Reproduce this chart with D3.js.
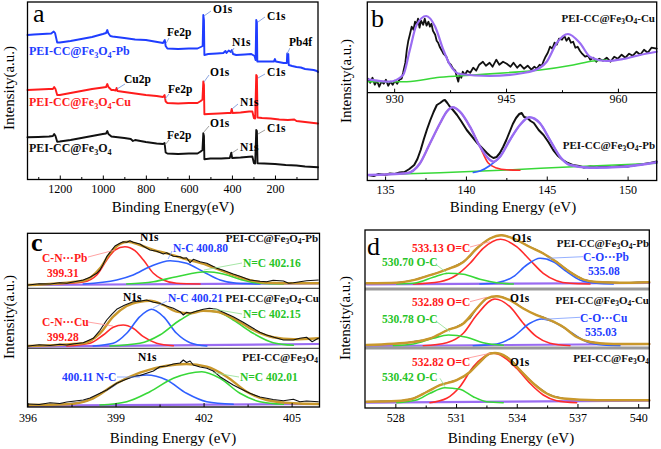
<!DOCTYPE html>
<html><head><meta charset="utf-8">
<script src="https://cdn.jsdelivr.net/npm/d3@7"></script>
<style>
body{margin:0;background:#fff}
svg{display:block}
svg text{font-family:'Liberation Serif','DejaVu Serif','Times New Roman',Times,serif}
</style>
</head><body>
<svg id="chart" width="661" height="449" font-family="Liberation Serif, DejaVu Serif, serif"></svg>
<script>
// ===== Panel a: survey spectra [binding energy eV, intensity a.u.] =====
const surveyPb = [[1350,145],[1320,145.5],[1280,146],[1240,146.5],[1228,148.5],[1222,147],[1212,137.5],[1200,137.5],[1150,139],[1100,141],[1050,143],[1000,146],[985,147],[979,150],[975,147],[965,144],[955,143.5],[900,142],[850,140.5],[800,140],[760,138.5],[720,137],[712,140],[708,134],[700,131.5],[650,131],[600,131.5],[560,131.5],[545,133],[536,134],[533,165],[530,160],[528,125],[510,126],[470,126.5],[440,127],[430,129],[425,127],[415,129.5],[405,128],[400,130],[395,126],[380,125],[340,125.5],[310,126],[295,124],[290,120],[287,160],[284,158],[282,118.5],[270,118.5],[240,118.5],[205,118.5],[200,121],[196,118.5],[160,117],[145,117],[143,126.5],[138,126],[136,115],[120,114],[100,113],[80,112.5],[60,111],[40,110.5],[20,110],[5,109],[0,108]];
const surveyCu = [[1350,90],[1300,90.5],[1250,91],[1232,91],[1226,93],[1220,91],[1212,85],[1200,85],[1150,87],[1100,89],[1050,91],[1000,92.5],[985,93],[979,96],[974,93],[960,90],[950,90],[940,89.5],[936,92],[932,89],[900,88],[850,86.5],[800,85],[750,84],[720,83],[713,85],[708,78.5],[700,77],[650,76.5],[600,77],[560,77],[545,79],[537,80.5],[533,98.5],[530,95],[528,65.7],[510,66],[460,66.5],[420,67],[405,67],[401,71],[397,67],[360,67.5],[320,68.5],[305,68.5],[298,62],[292,61.5],[287,105],[284,104],[281,62.5],[260,62],[220,61.5],[180,60.5],[140,60],[110,60.5],[100,59],[60,58],[20,57],[0,56.5]];
const surveyFe = [[1350,42.7],[1300,43],[1250,43.5],[1232,44],[1226,46],[1220,44],[1212,38.3],[1200,38.5],[1150,40],[1100,42],[1050,44],[1000,46],[985,46.5],[979,49],[974,46],[960,43.5],[900,42],[870,41],[860,39],[850,40],[800,38],[750,36.5],[720,36],[713,37],[708,27.5],[700,26.5],[650,26],[600,26.5],[560,26.5],[545,28.5],[537,30],[533,46.7],[530,44],[528,20.7],[500,21.5],[450,21.5],[410,22],[403,27.3],[399,22],[360,22.5],[320,23.3],[305,23.5],[298,17],[292,16.5],[287,50],[284,49],[281,16.7],[250,16.5],[200,16],[150,15],[100,14.5],[60,13.5],[20,13],[0,12.7]];
const surveyTicks = [1200,1000,800,600,400,200];
const surveyMinor = [1300,1100,900,700,500,300,100];
const sampleSuffixes = ["-Pb","-Cu",""];

// ===== Panel b: Cu 2p (top) and Pb 4f (bottom) =====
const cu2pData = [[926.5,14],[926.8,10],[927.1,15],[927.4,8],[927.7,12],[928.0,6],[928.3,11],[928.6,9],[928.9,13],[929.2,7],[929.5,11],[929.8,8],[930.1,12],[930.4,9],[930.7,13],[931.0,14],[931.2,20],[931.5,30],[931.7,43],[931.9,52],[932.1,58],[932.35,66],[932.6,63],[932.8,71],[933.0,68],[933.2,74],[933.4,65],[933.6,72],[933.9,68],[934.1,74],[934.35,67],[934.6,71],[934.8,66],[935.0,69],[935.2,62],[935.5,58],[935.7,52],[935.9,50],[936.1,46],[936.4,42],[936.6,39],[937.0,36],[937.3,30],[937.6,28],[937.9,24],[938.2,22],[938.4,16],[938.6,11],[938.8,19],[939.0,15],[939.2,21],[939.5,18],[939.8,22],[940.2,20],[940.6,25],[941.0,22],[941.4,28],[941.9,31],[942.3,27],[942.8,30],[943.2,26],[943.7,33],[944.1,28],[944.6,31],[945.1,29],[945.6,26],[946.0,30],[946.5,25],[946.9,28],[947.4,24],[947.9,27],[948.4,23],[948.8,26],[949.1,24],[949.5,28],[949.8,27],[950.0,31],[950.3,36],[950.6,40],[950.9,46],[951.2,44],[951.5,50],[951.8,48],[952.1,54],[952.5,53],[952.8,57],[953.1,52],[953.4,55],[953.7,50],[954.0,51],[954.3,45],[954.6,46],[954.9,42],[955.2,39],[955.6,36],[956.0,37],[956.3,33],[956.7,35],[957.1,31],[957.5,34],[958.0,32],[958.5,35],[959.0,31],[959.5,36],[960.0,34],[960.5,38],[961.0,35],[961.5,39],[962.0,37],[962.5,41],[963.0,38],[963.5,43],[964.0,40],[964.5,45],[965.2,44]];
const cu2pFit = [[926.53,13.4],[929.4,11],[931.2,17.7],[932.1,42.7],[933.0,67.7],[934.3,76.7],[935.5,66],[936.6,42.7],[937.5,27.7],[938.8,18.7],[942.8,16.7],[947.3,19.7],[949.55,25],[950.45,31],[951.8,49.7],[953.3,58.7],[954.9,49.7],[956.3,35.7],[958.5,31.7],[960.7,33.7],[962.95,37.7],[965.2,41]];
const cu2pBase = [[926.53,11],[931.7,11],[936.1,15.4],[940.6,17.7],[945.1,20],[949.55,22.7],[954.0,27.7],[956.7,31.7],[958.5,32.7]];
const cu2pTicks = [930,945,960];
const cu2pMinor = [937.5,952.5];
const pb4fData = [[133.96,5],[134.3,4],[134.6,6],[135.0,5],[135.3,6.5],[135.6,6],[135.9,7.5],[136.2,8],[136.5,11],[136.8,15],[137.0,21],[137.2,30],[137.4,41],[137.6,51],[137.8,60],[138.0,68],[138.2,75],[138.4,77],[138.6,79.5],[138.7,80],[138.85,77],[139.0,73.5],[139.2,70],[139.45,65],[139.7,59],[140.05,50],[140.4,43],[140.7,37],[141.0,32],[141.3,27],[141.5,24],[141.7,22],[141.9,23],[142.1,27],[142.3,33],[142.5,40],[142.7,48],[142.9,56],[143.1,62],[143.3,66],[143.45,67],[143.6,63],[143.8,62],[144.0,59],[144.2,57],[144.5,50],[144.8,45],[145.1,38],[145.4,30],[145.7,24],[146.0,20],[146.3,17],[146.6,15],[147.0,14],[147.3,12.5],[147.7,13.5],[148.1,12.5],[148.5,14],[149.0,13],[149.5,14],[150.0,13.5],[150.5,15],[151.0,16],[151.4,17],[151.8,18.5]];
const pb4fFit = [[133.96,5],[136.34,6.7],[137.16,16.7],[137.78,36.7],[138.4,56.7],[138.81,68.3],[139.18,72.7],[139.63,68.3],[140.25,53.3],[140.87,33.3],[141.49,20],[141.69,18.3],[142.11,23.3],[142.72,40],[143.34,55],[143.92,62.7],[144.58,56.7],[145.2,40],[145.82,23.3],[146.44,15],[147.67,12.3],[149.73,13.3],[151.8,17.7]];
const pb4f72 = [[133.96,5],[136.34,6.7],[137.16,16.7],[137.78,36.7],[138.4,56.7],[138.81,68.3],[139.18,72.7],[139.63,68.3],[140.25,53.3],[140.87,33.3],[141.38,17],[141.9,12],[142.52,10.2],[143.34,9.8]];
const pb4f52 = [[140.46,7.5],[140.87,9],[141.49,14.5],[142.11,23.3],[142.72,40],[143.34,55],[143.92,62.7],[144.58,56.7],[145.2,40],[145.82,23.3],[146.44,15],[147.67,12.3],[149.73,13.3],[151.8,17.7]];
const pb4fBase = [[133.96,5],[138.4,7.3],[142.52,10],[146.64,13.3],[151.8,16.7]];
const pb4fTicks = [135,140,145,150];
const pb4fMinor = [137.5,142.5,147.5];

// ===== Panel c: N 1s =====
const n1sPbData = [[396.03,3.3],[396.4,4.5],[396.77,4.3],[397.1,5.5],[397.34,5],[397.6,6.5],[397.9,8.3],[398.13,11],[398.36,15],[398.47,18.3],[398.58,24],[398.7,31.6],[398.81,36],[398.98,42.3],[399.15,45],[399.26,46.6],[399.38,46],[399.49,47.6],[399.6,46],[399.83,44.3],[399.95,42],[400.17,38.3],[400.4,37],[400.63,34.3],[400.74,35.5],[400.97,32],[401.2,31.6],[401.31,30],[401.42,30.5],[401.54,25.6],[401.65,29],[401.88,26.6],[402.11,25],[402.45,20],[402.67,18],[403.01,14.3],[403.24,12],[403.58,8.3],[403.92,7],[404.15,6.6],[404.37,8],[404.72,7.3],[404.9,5],[405.06,5.6],[405.28,6.6],[405.51,7.5],[405.91,8.3]];
const n1sPbEnv = [[396.03,3.3],[397.9,7.6],[398.47,20],[398.81,35],[399.15,44.3],[399.43,46.6],[399.83,43.3],[400.29,38.3],[400.74,35],[401.42,29],[402.11,23.3],[402.79,15.6],[403.47,9],[404.15,5.6],[405.28,5],[405.91,5]];
const n1sPbCN = [[396.77,4.3],[397.9,6.3],[398.36,13.3],[398.7,28.3],[398.98,38.3],[399.32,41.6],[399.66,37.6],[399.95,28.3],[400.29,15],[400.63,8.3],[401.08,5],[401.88,4.3]];
const n1sPbNC = [[397.9,4.3],[399.04,8.3],[399.6,13.3],[400.17,21.6],[400.86,27.6],[401.42,25],[401.99,16.6],[402.56,8.3],[403.13,5],[403.92,4.3]];
const n1sPbNdC = [[399.38,4.3],[400.29,6.6],[401.08,11.6],[402.1,16.6],[402.67,14.3],[403.24,9],[403.92,5],[404.72,4.3]];
const n1sPbBase = [[396.03,3.3],[405.91,5]];
const n1sCuData = [[396.03,2.3],[396.4,3.5],[396.77,2.8],[397.1,4],[397.34,3.3],[397.6,4.5],[397.9,5.5],[398.24,10],[398.47,18],[398.7,28.3],[398.87,34],[399.04,39],[399.3,43],[399.6,46.6],[399.83,47],[400.06,48.3],[400.29,46],[400.51,45],[400.74,42.3],[400.97,40],[401.2,36.6],[401.31,33.3],[401.42,36],[401.54,35],[401.75,37],[401.99,39],[402.2,40],[402.45,39],[402.67,36],[403.01,31.6],[403.35,26],[403.69,20],[403.92,16],[404.15,13.3],[404.4,11],[404.72,8.3],[405.06,8.3],[405.28,10],[405.51,11],[405.7,6.6],[405.91,10]];
const n1sCuEnv = [[396.03,2.3],[397.9,5],[398.47,15],[398.92,31.6],[399.38,42.3],[399.83,46.6],[400.17,47.6],[400.63,43.3],[401.08,36.6],[401.54,35],[401.99,37.6],[402.45,36.6],[403.01,30],[403.69,18.3],[404.37,11],[405.06,9],[405.91,10]];
const n1sCuCN = [[397.34,2.3],[398.13,5],[398.58,13.3],[398.92,21],[399.26,23.3],[399.6,20],[399.95,11.6],[400.4,5],[400.97,2.6]];
const n1sCuNC = [[398.24,2.3],[398.92,5],[399.38,15],[399.83,31.6],[400.23,39],[400.63,31.6],[401.08,15],[401.54,5.6],[402.11,2.3]];
const n1sCuNdC = [[398.81,2.3],[399.83,5],[400.51,13.3],[401.2,28.3],[401.88,37.6],[402.45,36.6],[403.01,28.3],[403.69,15],[404.37,5.6],[405.06,3]];
const n1sCuBase = [[396.03,1.6],[405.91,4.3]];
const n1sFeData = [[396.03,3],[396.4,2.5],[396.77,4.3],[397.1,3.5],[397.34,5],[397.9,7],[398.13,9],[398.47,13.7],[398.7,17],[399.04,23.7],[399.3,27],[399.6,30.3],[399.83,31.5],[400.06,33.7],[400.29,36],[400.51,40.3],[400.74,41],[400.97,43],[401.2,44],[401.31,47],[401.42,44.5],[401.54,46],[401.65,42],[401.88,40],[402.11,38.7],[402.33,36],[402.56,30.3],[402.79,26],[403.01,22],[403.24,18.5],[403.58,13.7],[403.92,10],[404.15,8.7],[404.37,7.5],[404.72,6.3],[405.06,7.7],[405.28,5.3],[405.51,6],[405.91,5.3]];
const n1sFeEnv = [[396.03,2],[397.34,2.7],[398.24,8.7],[399.04,23.7],[399.83,34.3],[400.74,41.3],[401.42,43],[402.11,40.3],[402.79,30.3],[403.47,15.3],[404.15,7],[405.06,3.7],[405.91,3]];
const n1sFeNC = [[396.77,2],[397.9,5.3],[398.7,17],[399.38,28.7],[400.06,32],[400.74,27],[401.42,13.7],[402.11,5.3],[403.01,2.7]];
const n1sFeNdC = [[398.47,2],[399.38,5.3],[400.17,15.3],[400.97,28.7],[401.94,35.3],[402.56,28.7],[403.24,13.7],[403.92,5.3],[404.72,2.7]];
const n1sFeBase = [[396.03,1.3],[405.91,3]];
const n1sTicks = [396,399,402,405];
const n1sMinor = [397.5,400.5,403.5];

// ===== Panel d: O 1s =====
const o1sPbData = [[526.58,5.7],[527.3,6],[528.07,6.3],[528.5,7.5],[528.89,9],[529.3,11.5],[529.71,14],[530.2,17],[530.54,19.7],[530.9,22.5],[531.36,27.3],[531.7,33],[532.02,40.7],[532.35,46],[532.68,50.7],[532.9,52.5],[533.25,54],[533.5,53],[533.83,50.7],[534.2,47],[534.65,42.3],[535.0,39],[535.31,35.7],[535.6,31.5],[535.97,27.3],[536.3,22],[536.63,17.3],[536.96,13],[537.29,9.7],[537.62,8],[537.95,7],[538.5,6.8],[539.1,6.3],[539.59,6.3],[540.0,6.8],[540.55,7]];
const o1sPbEnv = [[526.58,5.7],[528.07,6.3],[528.89,8.8],[529.71,13.8],[530.54,19.5],[531.36,27],[532.02,40.5],[532.68,50.5],[533.25,53.8],[533.83,50.5],[534.65,42],[535.31,35.5],[535.97,27],[536.63,17],[537.29,9.5],[537.95,7],[539.1,6.3],[540.55,6.8]];
const o1sPbOdC = [[528.89,5],[530.2,7.3],[531.03,14],[531.69,25.7],[532.34,40.7],[533.2,49.7],[533.99,42.3],[534.65,29],[535.31,15.7],[535.97,8.3],[536.63,5.7],[537.62,5]];
const o1sPbCO = [[532.18,5],[533.01,6.3],[533.83,12.3],[534.49,24],[535.15,30.7],[535.8,27.3],[536.47,17.3],[537.12,9],[537.95,5.7],[538.77,5]];
const o1sPbOC = [[528.07,5],[529.05,6.3],[529.87,11.7],[530.62,15.7],[531.36,14.7],[532.18,9.7],[533.01,6.3],[533.83,5]];
const o1sPbBase = [[526.58,4.7],[540.55,6]];
const o1sCuData = [[526.58,3],[527.5,3.5],[528.3,4.5],[528.89,6.3],[529.38,8],[529.71,9.7],[530.04,12],[530.3,15],[530.54,18],[531.0,21],[531.36,24.7],[531.7,30],[532.02,39.7],[532.51,49.7],[533.01,52],[533.3,51],[533.66,48],[534.0,44],[534.32,39.7],[534.65,36],[534.98,33],[535.3,31],[535.64,28],[535.97,25],[536.3,21.3],[536.63,16],[536.96,11.3],[537.29,8],[537.62,6.3],[538.0,5],[538.77,4],[539.6,4],[540.55,4]];
const o1sCuEnv = [[526.58,3],[528.89,6],[529.71,9.5],[530.54,17.5],[531.36,24.5],[532.02,39.5],[532.51,49.5],[533.01,51.8],[533.66,47.8],[534.32,39.5],[534.98,32.8],[535.64,27.8],[536.3,21],[536.96,11],[537.62,6],[538.77,4],[540.55,4]];
const o1sCuOdC = [[529.38,2.3],[530.54,5.3],[531.36,14.7],[532.02,33],[532.92,49],[533.66,41.3],[534.32,24.7],[534.98,11.3],[535.64,4.7],[536.63,2.3]];
const o1sCuCO = [[531.85,2.3],[533.01,4],[533.83,11.3],[534.65,24.7],[535.23,29],[535.8,26.3],[536.63,16.3],[537.45,6.3],[538.27,3],[539.1,2.3]];
const o1sCuOC = [[527.9,2.3],[528.89,4],[529.87,9.7],[530.62,13],[531.52,10.7],[532.34,5.3],[533.33,2.7]];
const o1sCuBase = [[526.58,2],[540.55,4]];
const o1sFeData = [[526.58,6.3],[527.3,6.8],[528.07,7],[528.5,8],[528.89,9.7],[529.2,12.5],[529.55,16.3],[529.9,20],[530.2,23],[530.6,25.5],[531.03,28],[531.36,31],[531.69,36.3],[531.9,41],[532.18,46.3],[532.45,51],[532.68,54.7],[532.92,55.3],[533.2,54],[533.5,51.3],[533.83,46],[534.16,38],[534.49,31],[534.82,24.7],[535.15,19.5],[535.48,14.7],[535.8,12],[536.3,9.7],[536.96,8.5],[537.95,8],[539.1,8],[540.55,8]];
const o1sFeEnv = [[526.58,6.3],[528.07,7],[528.89,9.5],[529.55,16],[530.2,22.8],[531.03,27.8],[531.69,36],[532.18,46],[532.68,54.5],[532.92,55],[533.5,51],[534.16,37.8],[534.82,24.5],[535.48,14.5],[536.3,9.5],[537.95,7.8],[540.55,7.8]];
const o1sFeOdC = [[529.71,5.3],[530.54,9.7],[531.19,21.3],[531.85,41.3],[532.34,50.7],[532.84,54.7],[533.33,51.3],[533.99,39.7],[534.65,24.7],[535.31,13],[535.97,7.3],[536.96,5.3]];
const o1sFeOC = [[528.07,5.3],[529.05,8],[529.71,14.7],[530.45,20.3],[531.19,18.7],[531.85,11.3],[532.51,6.3],[533.33,5.3]];
const o1sFeBase = [[526.58,5.3],[540.55,7.3]];
const o1sTicks = [528,531,534,537,540];
const o1sMinor = [529.5,532.5,535.5,538.5];

// ===== drawing =====
const COL = {blue:"#1f3dff", red:"#ff1c1c", black:"#111", purple:"#9a6cf2", green:"#38d838",
             fitRed:"#ff2b2b", fitBlue:"#3060ff", env:"#c9982c", tGreen:"#27c427", tBlue:"#1f3dff", tRed:"#ff1a1a"};
const FONT = "Liberation Serif, DejaVu Serif, Times New Roman, serif";
const svg = d3.select("#chart");

function line(g, data, x, y, color, w, curve) {
  g.append("path").datum(data).attr("fill","none").attr("stroke",color).attr("stroke-width",w)
    .attr("stroke-linejoin","round").attr("stroke-linecap","round")
    .attr("d", d3.line().x(d=>x(d[0])).y(d=>y(d[1])).curve(curve||d3.curveLinear));
}
function axis(g, x, yPos, majors, minors, pad) {
  const a = g.append("g").attr("transform",`translate(0,${yPos})`)
    .call(d3.axisBottom(x).tickValues(majors).tickSize(-4).tickPadding(pad).tickFormat(d3.format("d")));
  a.select(".domain").remove();
  a.attr("font-family",FONT).attr("font-size",12);
  a.selectAll("line").attr("stroke","#000").attr("stroke-width",1);
  a.selectAll("text").attr("fill","#000").style("font-family",FONT);
  const m = g.append("g").attr("transform",`translate(0,${yPos})`)
    .call(d3.axisBottom(x).tickValues(minors).tickSize(-2.5).tickFormat(""));
  m.select(".domain").remove();
  m.selectAll("line").attr("stroke","#000").attr("stroke-width",1);
}
function box(g, x0, y0, x1, y1) {
  g.append("rect").attr("x",x0).attr("y",y0).attr("width",x1-x0).attr("height",y1-y0)
    .attr("fill","none").attr("stroke","#000").attr("stroke-width",1.3);
}
function txt(g, x, y, s, opt) {
  opt = opt||{};
  return g.append("text").attr("x",x).attr("y",y).text(s).style("font-family",FONT)
    .attr("font-size",opt.size||11.5).attr("font-weight",opt.bold===false?"normal":"bold")
    .attr("fill",opt.color||"#000").attr("text-anchor",opt.anchor||"start");
}
function sample(g, x, y, suffix, color, size, anchor) {
  const t = g.append("text").attr("x",x).attr("y",y).attr("font-size",size).attr("font-weight","bold")
    .style("font-family",FONT).attr("fill",color).attr("text-anchor",anchor||"start");
  t.append("tspan").text("PEI-CC@Fe");
  t.append("tspan").text("3").attr("font-size",size*0.68).attr("dy",size*0.22);
  t.append("tspan").text("O").attr("dy",-size*0.22);
  t.append("tspan").text("4").attr("font-size",size*0.68).attr("dy",size*0.22);
  if (suffix) t.append("tspan").text(suffix).attr("dy",-size*0.22);
}
function leader(g, x1, y1, x2, y2, color) {
  g.append("line").attr("x1",x1).attr("y1",y1).attr("x2",x2).attr("y2",y2)
    .attr("stroke",color).attr("stroke-width",0.8);
}
function ytitle(g, x, y) {
  g.append("text").attr("transform",`translate(${x},${y}) rotate(-90)`).attr("text-anchor","middle")
    .style("font-family",FONT).attr("font-size",15).text("Intensity(a.u.)");
}
function xtitle(g, x, y, s) {
  g.append("text").attr("x",x).attr("y",y).attr("text-anchor","middle").style("font-family",FONT)
    .attr("font-size",15).text(s);
}
function letter(g, x, y, s, bold) {
  g.append("text").attr("x",x).attr("y",y).attr("font-size",26).style("font-family",FONT)
    .attr("font-weight",bold?"bold":"normal").text(s);
}
const smooth = d3.curveMonotoneX;

// ---------- Panel a ----------
{
  const g = svg.append("g");
  const x = d3.scaleLinear().domain([1350,0]).range([27.5,318]);
  const y = d3.scaleLinear().domain([0,178]).range([180,2]);
  line(g, surveyPb, x, y, COL.blue, 1.9);
  line(g, surveyCu, x, y, COL.red, 1.9);
  line(g, surveyFe, x, y, COL.black, 1.9);
  box(g, 27.5, 2, 318, 179.5);
  axis(g, x, 179.5, surveyTicks, surveyMinor, 5);
  xtitle(g, 173, 212, "Binding Energy(eV)");
  ytitle(g, 14, 88);
  letter(g, 33, 22, "a");
  sample(g, 29, 55, sampleSuffixes[0], COL.blue, 12);
  sample(g, 29, 106, sampleSuffixes[1], COL.red, 12);
  sample(g, 29, 152, sampleSuffixes[2], COL.black, 12);
  const ann = [
    ["Fe2p",167,36,169,38,705,137,"#6f8fd8"],["O1s",213,13,211,11,530,164,"#6f8fd8"],
    ["C1s",267,20,265,17,279,158,"#6f8fd8"],["N1s",232,46,234,48,404,127,"#6f8fd8"],
    ["Pb4f",289,46,290,48,144,126,"#6f8fd8"],
    ["Cu2p",124,83,125,84,934,91,"#6f8fd8"],["Fe2p",168,93,169,94,711,81,"#6f8fd8"],
    ["O1s",210,76,209,75,530,98,"#6f8fd8"],["C1s",267,76,265,74,279,102,"#6f8fd8"],
    ["N1s",240,106,238,104,400,71,"#6f8fd8"],
    ["Fe2p",167,139,169,140,711,35,"#888"],["O1s",210,127,209,126,530,48,"#888"],
    ["C1s",267,132,265,130,279,46,"#888"],["N1s",240,151,238,149,400,27,"#888"]
  ];
  ann.forEach(a => { leader(g, a[3], a[4], x(a[5]), y(a[6]), a[7]); txt(g, a[1], a[2], a[0], {size:11.5}); });
}

// ---------- Panel b ----------
{
  const g = svg.append("g");
  const xT = d3.scaleLinear().domain([926.4,965.2]).range([367.3,656.7]);
  const yT = d3.scaleLinear().domain([0,90.7]).range([92.7,2]);
  const xB = d3.scaleLinear().domain([133.9,151.8]).range([367.3,656.7]);
  const yB = d3.scaleLinear().domain([0,87.3]).range([180,92.7]);
  line(g, cu2pData, xT, yT, COL.black, 1.8);
  line(g, cu2pBase, xT, yT, COL.green, 1.6, smooth);
  line(g, cu2pFit, xT, yT, COL.purple, 2.2, smooth);
  line(g, pb4fData, xB, yB, COL.black, 2);
  line(g, pb4fBase, xB, yB, COL.green, 1.6, smooth);
  line(g, pb4f72, xB, yB, COL.fitRed, 1.6, smooth);
  line(g, pb4f52, xB, yB, COL.fitBlue, 1.6, smooth);
  line(g, pb4fFit, xB, yB, COL.purple, 2.4, smooth);
  box(g, 367.3, 2, 656.7, 180.5);
  g.append("line").attr("x1",367.3).attr("x2",656.7).attr("y1",92.7).attr("y2",92.7).attr("stroke","#000").attr("stroke-width",1.3);
  axis(g, xT, 92.7, cu2pTicks, cu2pMinor, 2);
  axis(g, xB, 180.5, pb4fTicks, pb4fMinor, 5);
  xtitle(g, 513, 212, "Binding Energy (eV)");
  ytitle(g, 351, 81);
  letter(g, 371, 27, "b");
  sample(g, 655, 22, "-Cu", COL.black, 11, "end");
  sample(g, 655, 149, "-Pb", COL.black, 11, "end");
}

// ---------- Panel c ----------
{
  const g = svg.append("g");
  const x = d3.scaleLinear().domain([396,405.95]).range([27.5,319.5]);
  const yT = d3.scaleLinear().domain([0,55]).range([288.3,233.3]);
  const yM = d3.scaleLinear().domain([0,60]).range([348.3,288.3]);
  const yB = d3.scaleLinear().domain([0,58.7]).range([407,348.3]);
  const sets = [
    [yT, n1sPbBase, [n1sPbCN, n1sPbNC, n1sPbNdC], n1sPbEnv, n1sPbData],
    [yM, n1sCuBase, [n1sCuCN, n1sCuNC, n1sCuNdC], n1sCuEnv, n1sCuData],
    [yB, n1sFeBase, [null, n1sFeNC, n1sFeNdC], n1sFeEnv, n1sFeData]
  ];
  const compCol = [COL.fitRed, COL.fitBlue, COL.green];
  sets.forEach(s => {
    line(g, s[1], x, s[0], COL.purple, 2.2);
    s[2].forEach((c,i) => { if (c) line(g, c, x, s[0], compCol[i], 1.6, smooth); });
    line(g, s[3], x, s[0], COL.env, 2.4, smooth);
    line(g, s[4], x, s[0], COL.black, 1.1);
  });
  g.append("line").attr("x1",27.5).attr("x2",319.5).attr("y1",288.3).attr("y2",288.3).attr("stroke","#555").attr("stroke-width",1.2);
  g.append("line").attr("x1",27.5).attr("x2",319.5).attr("y1",348.3).attr("y2",348.3).attr("stroke","#555").attr("stroke-width",1.2);
  box(g, 27.5, 233.3, 319.5, 407);
  axis(g, x, 407, n1sTicks, n1sMinor, 6.3);
  xtitle(g, 173, 443, "Binding Energy (eV)");
  ytitle(g, 14, 317);
  letter(g, 31, 251, "c", true);
  // top
  txt(g, 140, 241, "N1s");
  sample(g, 318, 242, "-Pb", COL.black, 11, "end");
  leader(g, 172, 251, x(400.79), yT(29.3), "#7a9cff");
  txt(g, 173, 252, "N-C 400.80", {color:COL.tBlue});
  leader(g, 88, 257, x(398.98), yT(38.3), "#ff8c8c");
  txt(g, 42, 262, "C-N\u00B7\u00B7\u00B7Pb", {color:COL.tRed});
  txt(g, 47, 277, "399.31", {color:COL.tRed});
  leader(g, 242, 263, x(402.01), yT(18.3), "#8fe08f");
  txt(g, 243, 267, "N=C 402.16", {color:COL.tGreen});
  // middle
  txt(g, 123, 301, "N1s");
  leader(g, 167, 301, x(400.28), yM(40.3), "#7a9cff");
  txt(g, 168, 302, "N-C 400.21", {color:COL.tBlue});
  sample(g, 319, 302, "-Cu", COL.black, 11, "end");
  leader(g, 88, 322, x(398.91), yM(22.3), "#ff8c8c");
  txt(g, 42, 326, "C-N\u00B7\u00B7\u00B7Cu", {color:COL.tRed});
  txt(g, 47, 341, "399.28", {color:COL.tRed});
  leader(g, 242, 314, x(402.32), yM(39.3), "#8fe08f");
  txt(g, 243, 318, "N=C 402.15", {color:COL.tGreen});
  // bottom
  txt(g, 138, 361, "N1s");
  sample(g, 318, 361, "", COL.black, 11, "end");
  leader(g, 117, 377, x(399.83), yB(30), "#7a9cff");
  txt(g, 62, 381, "400.11 N-C", {color:COL.tBlue});
  leader(g, 239, 377, x(402.32), yB(34.3), "#8fe08f");
  txt(g, 240, 381, "N=C 402.01", {color:COL.tGreen});
}

// ---------- Panel d ----------
{
  const g = svg.append("g");
  const x = d3.scaleLinear().domain([526.5,540.55]).range([365,649.3]);
  const yT = d3.scaleLinear().domain([0,59]).range([289,230]);
  const yM = d3.scaleLinear().domain([0,59]).range([348,289]);
  const yB = d3.scaleLinear().domain([0,60]).range([408,348]);
  const sets = [
    [yT, o1sPbBase, [o1sPbOdC, o1sPbCO, o1sPbOC], o1sPbEnv, o1sPbData],
    [yM, o1sCuBase, [o1sCuOdC, o1sCuCO, o1sCuOC], o1sCuEnv, o1sCuData],
    [yB, o1sFeBase, [o1sFeOdC, null, o1sFeOC], o1sFeEnv, o1sFeData]
  ];
  const compCol = [COL.fitRed, COL.fitBlue, COL.green];
  sets.forEach(s => {
    line(g, s[1], x, s[0], COL.purple, 2.2);
    s[2].forEach((c,i) => { if (c) line(g, c, x, s[0], compCol[i], 1.6, smooth); });
    line(g, s[4], x, s[0], "#333", 1.2);
    line(g, s[3], x, s[0], COL.env, 2.4, smooth);
  });
  g.append("line").attr("x1",365).attr("x2",649.3).attr("y1",289).attr("y2",289).attr("stroke","#999").attr("stroke-width",3);
  g.append("line").attr("x1",365).attr("x2",649.3).attr("y1",348).attr("y2",348).attr("stroke","#999").attr("stroke-width",3);
  box(g, 365, 230, 649.3, 408);
  axis(g, x, 408, o1sTicks, o1sMinor, 5.5);
  xtitle(g, 511, 443, "Binding Energy (eV)");
  ytitle(g, 350, 318);
  letter(g, 367, 255, "d");
  // top
  leader(g, 470, 247, x(532.68), yT(47.3), "#ff8c8c");
  txt(g, 412, 252, "533.13 O=C", {color:COL.tRed});
  txt(g, 512, 242, "O1s");
  sample(g, 649, 247, "-Pb", COL.black, 11, "end");
  leader(g, 583, 256.7, x(535.48), yT(30.7), "#7a9cff");
  txt(g, 583, 261, "C-O\u00B7\u00B7\u00B7Pb", {color:COL.tBlue});
  txt(g, 588, 275, "535.08", {color:COL.tBlue});
  leader(g, 436.7, 265, x(530.54), yT(16.3), "#8fe08f");
  txt(g, 382, 266, "530.70 O-C", {color:COL.tGreen});
  // middle
  leader(g, 470, 301.7, x(532.51), yM(50.7), "#ff8c8c");
  txt(g, 412, 306, "532.89 O=C", {color:COL.tRed});
  txt(g, 510, 302, "O1s");
  sample(g, 649, 304, "-Cu", COL.black, 11, "end");
  leader(g, 580, 317.3, x(535.31), yM(28.7), "#7a9cff");
  txt(g, 580, 322, "C-O\u00B7\u00B7\u00B7Cu", {color:COL.tBlue});
  txt(g, 585, 336, "535.03", {color:COL.tBlue});
  leader(g, 436.7, 321.7, x(530.7), yM(16.3), "#8fe08f");
  txt(g, 382, 323, "530.78 O-C", {color:COL.tGreen});
  // bottom
  leader(g, 466.7, 358.3, x(532.68), yB(54.7), "#ff8c8c");
  txt(g, 412, 366, "532.82 O=C", {color:COL.tRed});
  txt(g, 510, 366, "O1s");
  sample(g, 649, 362, "", COL.black, 11, "end");
  leader(g, 440, 378.3, x(530.45), yB(21.3), "#8fe08f");
  txt(g, 382, 381, "530.42 O-C", {color:COL.tGreen});
}
</script>
</body></html>
